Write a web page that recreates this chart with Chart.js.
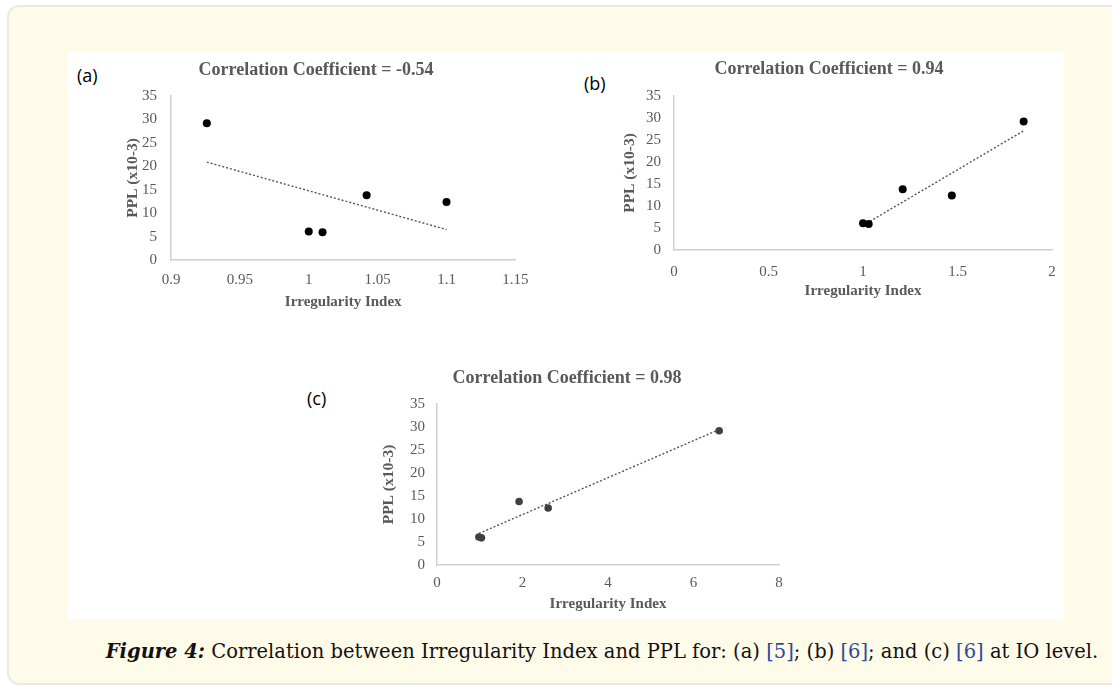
<!DOCTYPE html>
<html>
<head>
<meta charset="utf-8">
<script src="https://cdn.jsdelivr.net/npm/chart.js@4.4.1/dist/chart.umd.min.js"></script>
<style>
  html, body { margin: 0; padding: 0; background: #fff; width: 1112px; height: 685px; overflow: hidden; }
  #panel { position: absolute; left: 7px; top: 5px; width: 1200px; height: 680px; box-sizing: border-box;
           background: #fffbe9; border: 2px solid #eceadf; border-radius: 12px; }
  #figure { position: absolute; left: 68px; top: 52px; width: 996px; height: 567px; background: #fff; }
  canvas { position: absolute; }
  .tag { position: absolute; font-family: 'Open Sans', sans-serif; font-size: 18px; color: #000; line-height: 20px; }
  #caption { position: absolute; top: 641px; left: 0; width: 1204px; text-align: center; white-space: nowrap;
             font-family: 'DejaVu Serif', serif; font-size: 19.5px; line-height: 22px; color: #111; }
  #caption b { font-style: italic; }
  #caption span { color: #2b4a9c; }
</style>
</head>
<body>
<div id="panel"></div>
<div id="figure"></div>
<canvas id="chartA" width="428" height="265" style="left:112px;top:50px"></canvas>
<canvas id="chartB" width="466" height="254" style="left:606px;top:50px"></canvas>
<canvas id="chartC" width="444" height="262" style="left:355px;top:355px"></canvas>
<div class="tag" style="left:77px;top:65px">(a)</div>
<div class="tag" style="left:584px;top:73px">(b)</div>
<div class="tag" style="left:307px;top:388px">(c)</div>
<div id="caption"><b>Figure 4:</b> Correlation between Irregularity Index and PPL for: (a) <span>[5]</span>; (b) <span>[6]</span>; and (c) <span>[6]</span> at IO level.</div>
<script>
// PPL (x10-3) values, same five samples in every panel
const ppl = [29.2, 6.1, 5.9, 13.8, 12.4];
// irregularity index per panel
const irrA = [0.926, 1.0, 1.01, 1.042, 1.1];
const irrB = [1.85, 1.0, 1.03, 1.21, 1.47];
const irrC = [6.6, 0.98, 1.04, 1.92, 2.6];

const titles = ['Correlation Coefficient = -0.54', 'Correlation Coefficient = 0.94', 'Correlation Coefficient = 0.98'];
const yTicks = [0, 5, 10, 15, 20, 25, 30, 35];
const xTicksA = [0.9, 0.95, 1, 1.05, 1.1, 1.15];
const xTicksB = [0, 0.5, 1, 1.5, 2];
const xTicksC = [0, 2, 4, 6, 8];

const grey = '#595959';
const serif = "'Liberation Serif', 'Times New Roman', serif";

// least squares line, from smallest to largest x
function trend(xs, ys) {
  const n = xs.length;
  const mx = xs.reduce((a, b) => a + b, 0) / n;
  const my = ys.reduce((a, b) => a + b, 0) / n;
  let sxy = 0, sxx = 0;
  xs.forEach((x, i) => { sxy += (x - mx) * (ys[i] - my); sxx += (x - mx) * (x - mx); });
  const k = sxy / sxx;
  const lo = Math.min(...xs), hi = Math.max(...xs);
  return [{ x: lo, y: my + k * (lo - mx) }, { x: hi, y: my + k * (hi - mx) }];
}

function makeChart(id, xs, xTicks, title, o) {
  const pts = xs.map((x, i) => ({ x: x, y: ppl[i] }));
  return new Chart(document.getElementById(id), {
    type: 'scatter',
    data: {
      datasets: [
        { data: pts, order: 0, pointRadius: o.r, pointHoverRadius: o.r, backgroundColor: o.dot, borderColor: o.dot, borderWidth: 0 },
        { type: 'line', data: trend(xs, ppl), order: 1, pointRadius: 0, borderColor: '#555', borderWidth: 1.4,
          borderDash: [2, 2], fill: false },
      ],
    },
    options: {
      responsive: false,
      animation: false,
      devicePixelRatio: 1,
      layout: { padding: { left: 0, right: 20, top: 0, bottom: 0 } },
      plugins: {
        legend: { display: false },
        tooltip: { enabled: false },
        title: {
          display: true,
          text: title,
          color: grey,
          font: { family: serif, size: 18, weight: 'bold' },
          padding: { top: o.tt, bottom: o.tb },
        },
      },
      scales: {
        x: {
          type: 'linear',
          min: xTicks[0],
          max: xTicks[xTicks.length - 1],
          afterBuildTicks: (s) => { s.ticks = xTicks.map((v) => ({ value: v })); },
          afterFit: (s) => { s.height = o.xh; },
          grid: { display: false, drawTicks: false },
          border: { display: true, color: '#d0d0d0', width: 1.5 },
          ticks: { color: grey, font: { family: serif, size: 15 }, padding: o.xp, maxRotation: 0,
                   callback: (v) => String(v) },
          title: { display: true, text: 'Irregularity Index', color: grey, font: { family: serif, size: 15, weight: 'bold' },
                   padding: { top: 0, bottom: 4 } },
        },
        y: {
          min: 0,
          max: 35,
          afterBuildTicks: (s) => { s.ticks = yTicks.map((v) => ({ value: v })); },
          afterFit: (s) => { s.width = o.yw; },
          grid: { display: false, drawTicks: false },
          border: { display: true, color: '#d0d0d0', width: 1.5 },
          ticks: { color: grey, font: { family: serif, size: 15 }, padding: o.yp, callback: (v) => String(v) },
          title: { display: true, text: 'PPL (x10-3)', color: grey, font: { family: serif, size: 15.5, weight: 'bold' },
                   padding: { top: o.yt, bottom: 0 } },
        },
      },
    },
  });
}

makeChart('chartA', irrA, xTicksA, titles[0], { r: 4, dot: '#000', tt: 9.2, tb: 15.2, xh: 55, xp: 11.5, yw: 59, yp: 14, yt: 12 });
makeChart('chartB', irrB, xTicksB, titles[1], { r: 4, dot: '#000', tt: 8.2, tb: 16.2, xh: 54, xp: 13, yw: 68, yp: 13, yt: 15 });
makeChart('chartC', irrC, xTicksC, titles[2], { r: 3.8, dot: '#404040', tt: 12.2, tb: 15.2, xh: 52, xp: 9, yw: 82, yp: 12, yt: 25 });
</script>
</body>
</html>
